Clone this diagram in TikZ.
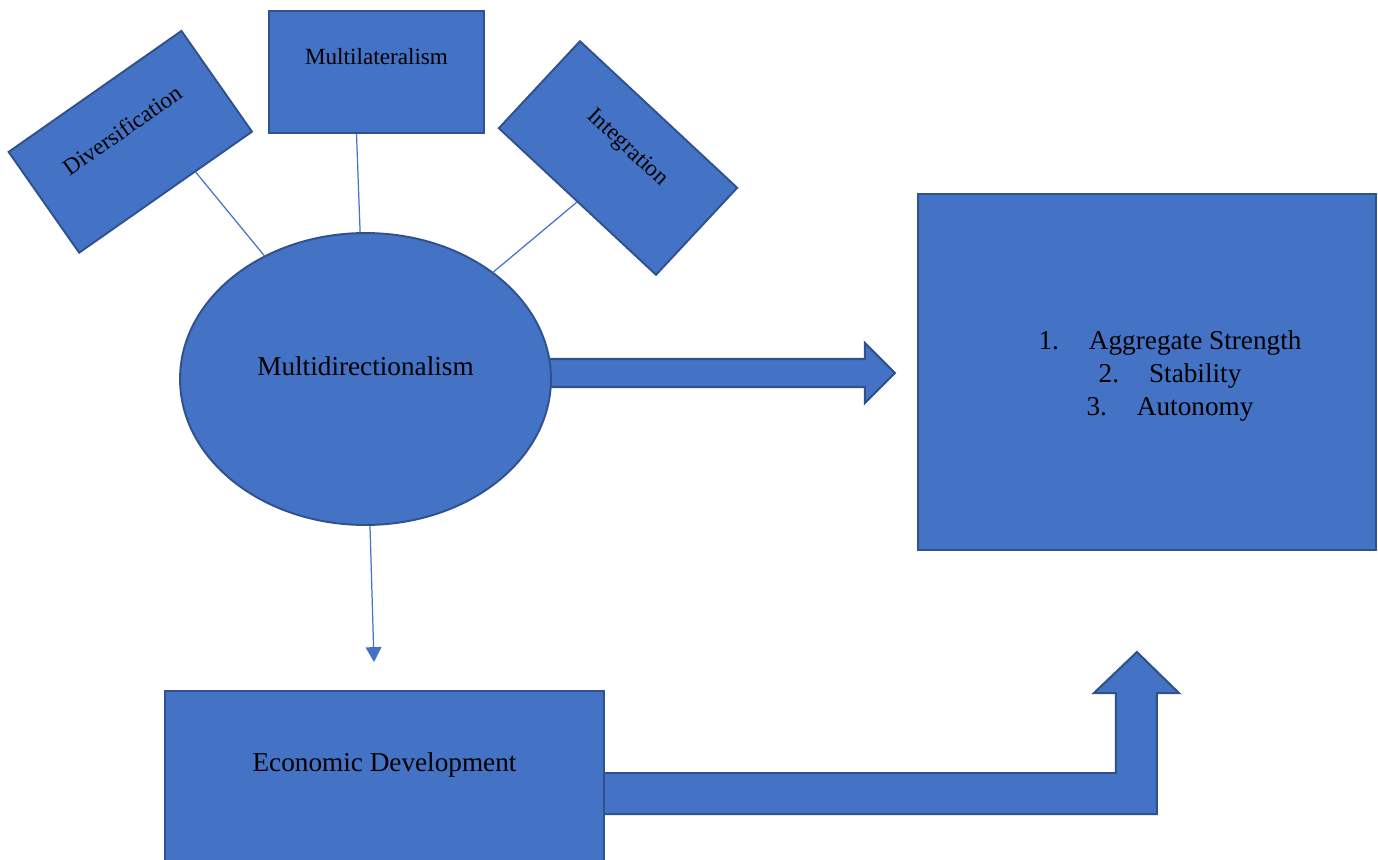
\documentclass[tikz,border=0pt]{standalone}
\usepackage{fontspec}
\setmainfont{Liberation Serif}
\usepackage{xcolor}
\usepackage{tikz}
\usetikzlibrary{positioning, shapes.geometric, calc, arrows.meta, backgrounds}

\definecolor{boxblue}{HTML}{4472C4}
\definecolor{edgeblue}{HTML}{2F528F}

\begin{document}
\begin{tikzpicture}[x=0.02cm, y=-0.02cm,
    box/.style={draw=edgeblue, fill=boxblue, line width=1.1pt, inner sep=0pt},
    lbl/.style={font=\fontsize{13.2}{16}\selectfont, inner sep=0pt},
    biglbl/.style={font=\fontsize{15.5}{18.7}\selectfont, inner sep=0pt, align=center},
    link/.style={draw=boxblue, line width=0.7pt},
    fatarrow/.style={draw=edgeblue, fill=boxblue, line width=1.2pt}]
                \useasboundingbox (0,0) rectangle (1378,859);
                \clip (0,0) rectangle (1378,859);

                \node[box, ellipse, minimum width=7.42cm, minimum height=5.84cm] (ell) at (365.5,379) {};
                \node[biglbl] at ($(ell)!0.09!(ell.north)$) {Multidirectionalism};

                \node[box, minimum width=4.22cm, minimum height=2.46cm, rotate=35] (div) at (130.3,141.8) {};
                \node[lbl, rotate=35] at ($(div)!0.23!(div.north)$) {Diversification};
                \node[box, minimum width=4.3cm, minimum height=2.44cm] (multi) at (376.5,72) {};
                \node[lbl] at ($(multi)!0.25!(multi.north)$) {Multilateralism};
                \node[box, minimum width=4.3cm, minimum height=2.38cm, rotate=-43] (integ) at (618,158) {};
                \node[lbl, rotate=-43] at ($(integ)!0.22!(integ.north)$) {Integration};

                \node[box, minimum width=9.16cm, minimum height=7.12cm] (res) at (1147,372) {};
                \node[biglbl] at ($(res)+(23,4)$) {1.\hspace{1.1em}Aggregate Strength\\2.\hspace{1.1em}Stability\\3.\hspace{1.1em}Autonomy};

                \node[box, minimum width=8.78cm, minimum height=4.4cm] (econ) at (384.5,801) {};
                \node[biglbl] at ($(econ.north)+(0,75)$) {Economic Development};

                \draw[link] ($(div.south)!0.34!(div.south east)$) -- (ell);
                \draw[link] ($(multi.south)+(-20,0)$) -- (ell);
                \draw[link] (integ.south) -- (ell);
                \draw[link, -{Triangle[width=9pt, length=8.5pt]}] ($(ell.south)+(4.5,0)$) -- ($(econ.north)+(-10.5,-28)$);

                \begin{scope}[on background layer]
                  \draw[fatarrow] ($(ell.east)+(-10,-20)$) -- ++(323,0) -- ++(0,-16) -- ++(30,30) -- ++(-30,30) -- ++(0,-16) -- ++(-323,0) -- cycle;
                  \draw[fatarrow] ($(econ.north east)+(-4,83)$) -- ++(515,0) -- ++(0,-80) -- ++(-22,0) -- ++(43,-41) -- ++(42,41) -- ++(-22,0) -- ++(0,121) -- ++(-556,0) -- cycle;
                \end{scope}
              \end{tikzpicture}
\end{document}
